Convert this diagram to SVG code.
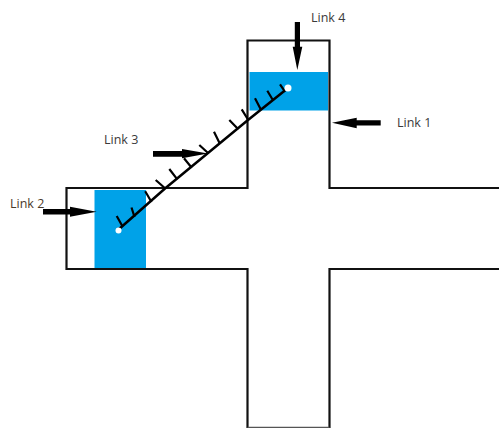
<svg xmlns="http://www.w3.org/2000/svg" width="499" height="428" viewBox="0 0 499 428">
<style>
.outline{fill:none;stroke:#111;stroke-width:2.200}
.floor{fill:none;stroke:#555;stroke-width:1.500}
.slider{fill:#00a2e8}
.link{fill:none;stroke:#000;stroke-width:2.500}
.tick{fill:none;stroke:#000;stroke-width:2.200}
.pin{fill:#fff}
.arrow{fill:#000}
text{font-family:"Open Sans","Liberation Sans",sans-serif;font-size:12.500px;fill:#3a3a3a}
</style>
<rect width="499" height="428" fill="#fff"/>
<path id="channel" class="outline" d="M499 188H329.500V40.500H247.500V188H66.500V269H247.500V428M329.500 428V269H499"/>
<path class="floor" d="M247.500 427.500H329.500"/>
<rect id="slider-top" class="slider" x="249.500" y="72" width="78.500" height="38.500"/>
<rect id="slider-left" class="slider" x="94.500" y="190" width="51.500" height="78"/>
<g id="link-3-bar">
<path class="link" d="M118 230L165 188.500L248 120L288 88"/>
<path class="tick" d="M122.300 226L116.700 216M134.500 217L131.500 207.500M151.500 202L145.200 191.200M165 188.300L155.700 180M177.300 179.300L169.300 169M191.700 167.700L184 158.300M208.300 153.300L199.300 145M220 144L214 131.700M238.300 129.300L229.300 120M248.300 120L241.700 109.300M260.700 109.300L255 98.300M273.300 100.700L267.300 90.700M285 91.700L280 84.300"/>
<circle class="pin" cx="118.500" cy="230.500" r="3"/>
<circle class="pin" cx="288" cy="88" r="3.500"/>
</g>
<g id="connectors">
<path class="arrow" d="M380.700 120.200H356.700V117.700L332 122.700L356.700 128.300V125.500H380.700Z"/>
<path class="arrow" d="M43 209H70V206.700L96.700 211.700L70 216.700V214.500H43Z"/>
<path class="arrow" d="M153 151H182V149L208 153.500L182 158.300V156.700H153Z"/>
<path class="arrow" d="M294.800 22H300V46.700H302.300L297.300 70L292.700 46.700H294.800Z"/>
</g>
<g id="link-1"><text x="397" y="127">Link 1</text></g>
<g id="link-2"><text x="10" y="207.500" style="fill:#4a3a2a">Link 2</text></g>
<g id="link-3"><text x="104" y="144">Link 3</text></g>
<g id="link-4"><text x="311" y="22">Link 4</text></g>
</svg>
